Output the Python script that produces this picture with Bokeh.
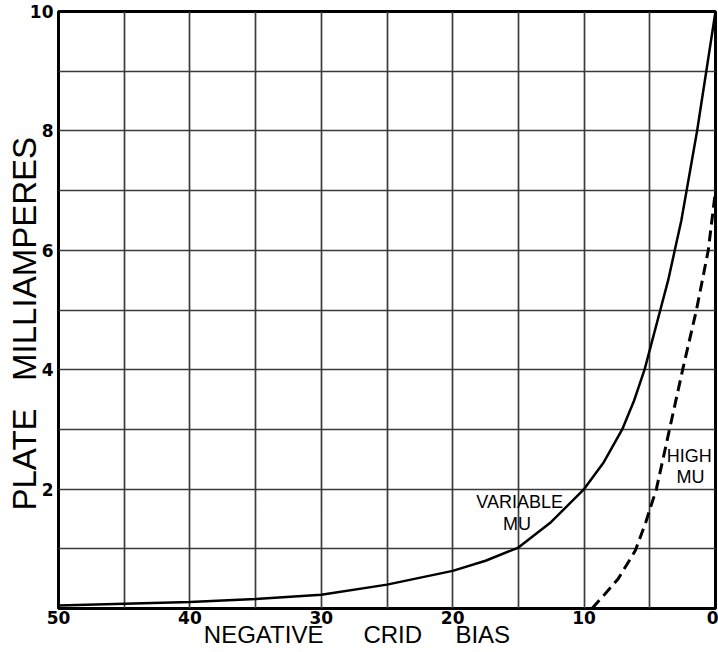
from bokeh.plotting import figure
from bokeh.models import Range1d, FixedTicker, Label
from bokeh.embed import file_html
from bokeh.resources import INLINE

# ---- data ----
variable_mu_bias = [50, 45, 40, 35, 30, 25, 20, 17.5, 15, 12.5, 10, 8.5, 7.1, 6.2, 5.4, 4.8, 4.2,
                    3.6, 3.1, 2.6, 2.2, 1.8, 1.4, 1.05, 0.7, 0.35, 0]
variable_mu_ma = [0.05, 0.08, 0.11, 0.16, 0.23, 0.4, 0.63, 0.8, 1.02, 1.45, 2.0, 2.45, 3.0, 3.48, 4.0, 4.5, 5.0,
                  5.5, 6.0, 6.5, 7.0, 7.5, 8.0, 8.5, 9.0, 9.5, 10.0]

high_mu_bias = [9.4, 8.5, 7.4, 6.1, 5.3, 4.5, 3.5, 2.5, 1.45, 0.55, 0]
high_mu_ma = [0.0, 0.22, 0.5, 0.97, 1.45, 2.0, 3.0, 4.0, 5.0, 6.0, 7.0]

x_tick_labels = [0, 10, 20, 30, 40, 50]
y_tick_labels = [2, 4, 6, 8, 10]
x_grid = list(range(0, 51, 5))
y_grid = list(range(0, 11))

FONT = "Liberation Sans"
TICK_FONT = "DejaVu Sans"
NB = "\u00a0"

p = figure(width=718, height=652, output_backend="svg", toolbar_location=None,
           x_range=Range1d(50, 0), y_range=Range1d(0, 10),
           min_border_left=58, min_border_right=3, min_border_top=11, min_border_bottom=44,
           background_fill_color="white", border_fill_color="white")

p.outline_line_color = "black"
p.outline_line_width = 3

p.xgrid.ticker = FixedTicker(ticks=x_grid)
p.ygrid.ticker = FixedTicker(ticks=y_grid)
for g in (p.xgrid, p.ygrid):
    g.grid_line_color = "#3a3a3a"
    g.grid_line_width = 1.7
    g.grid_line_alpha = 1.0

p.xaxis.ticker = FixedTicker(ticks=x_tick_labels)
p.yaxis.ticker = FixedTicker(ticks=y_tick_labels)
for ax in (p.xaxis, p.yaxis):
    ax.axis_line_color = None
    ax.major_tick_line_color = None
    ax.minor_tick_line_color = None
    ax.major_tick_out = 0
    ax.major_tick_in = 0
    ax.minor_tick_out = 0
    ax.minor_tick_in = 0
    ax.major_label_text_font = TICK_FONT
    ax.major_label_text_font_style = "bold"
    ax.major_label_text_font_size = "17px"
    ax.major_label_text_color = "black"
    ax.axis_label_text_font = FONT
    ax.axis_label_text_font_style = "normal"
    ax.axis_label_text_color = "black"
p.xaxis.major_label_standoff = 2
p.yaxis.major_label_standoff = 5

p.xaxis.axis_label = "NEGATIVE" + NB * 6 + "CRID" + NB * 5 + "BIAS" + NB * 9
p.xaxis.axis_label_text_font_size = "24px"
p.xaxis.axis_label_standoff = -6

p.yaxis.axis_label = "PLATE" + NB * 3 + "MILLIAMPERES" + NB * 3
p.yaxis.axis_label_text_font_size = "33px"
p.yaxis.axis_label_standoff = -16

p.line(variable_mu_bias, variable_mu_ma, line_color="black", line_width=2.5)
p.line(high_mu_bias, high_mu_ma, line_color="black", line_width=3, line_dash="11 6")

def add_text(x, y, text, size):
    p.add_layout(Label(x=x, y=y, text=text,
                       text_font=FONT, text_font_size=size, text_color="black",
                       text_align="center", text_baseline="middle"))

add_text(14.9, 1.79, "VARIABLE", "18px")
add_text(15.1, 1.42, "MU", "18px")
add_text(2.0, 2.55, "HIGH", "18px")
add_text(1.9, 2.2, "MU", "18px")

open("out.html", "w").write(file_html(p, INLINE))
